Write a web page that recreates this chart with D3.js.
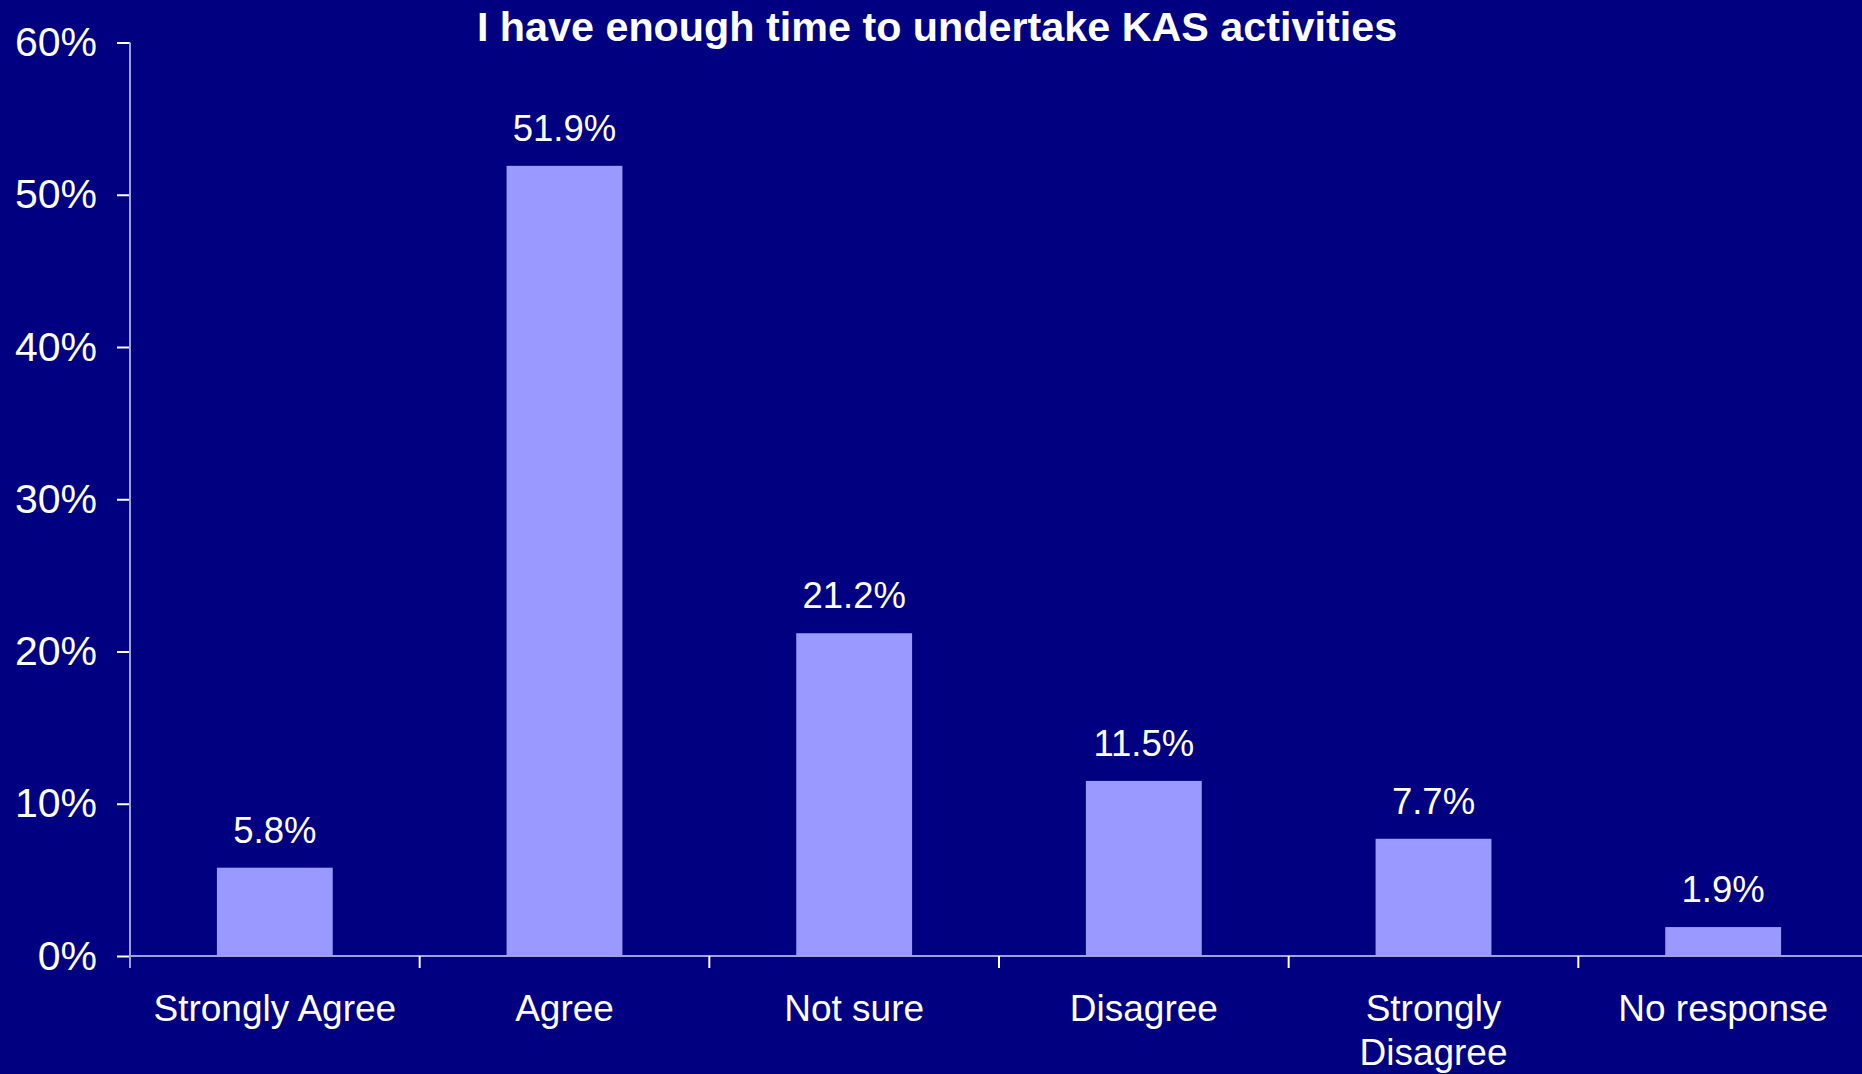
<!DOCTYPE html>
<html>
<head>
<meta charset="utf-8">
<script src="https://cdn.jsdelivr.net/npm/d3@7"></script>
<style>
  html, body { margin: 0; padding: 0; background: #000080; overflow: hidden; }
  svg { display: block; font-family: "Liberation Sans", Arial, sans-serif; }
</style>
</head>
<body>
<svg id="chart" width="1862" height="1074"></svg>
<script>
const title = 'I have enough time to undertake KAS activities';
const categories = ['Strongly Agree', 'Agree', 'Not sure', 'Disagree', 'Strongly Disagree', 'No response'];
const values = [5.8, 51.9, 21.2, 11.5, 7.7, 1.9];
const yTicks = [0, 10, 20, 30, 40, 50, 60];

const svg = d3.select('#chart');
const W = 1862, H = 1074;
const plotL = 130, plotR = 1868, plotT = 42.5, plotB = 956;

svg.append('rect').attr('width', W).attr('height', H).attr('fill', '#000080');

const x = d3.scaleBand().domain(categories).range([plotL, plotR]).paddingInner(0).paddingOuter(0);
const y = d3.scaleLinear().domain([0, 60]).range([plotB, plotT]);

const axisColor = '#a0a0e0';

// y axis
const yAxis = svg.append('g').attr('transform', `translate(${plotL},0)`)
  .call(d3.axisLeft(y).tickValues(yTicks).tickSize(13).tickPadding(20).tickFormat(d => d + '%'));
yAxis.select('.domain').remove();
yAxis.selectAll('.tick line').attr('stroke', '#ffffff').attr('stroke-width', 2);
yAxis.selectAll('.tick text')
  .attr('fill', '#ffffff').attr('font-size', 41).attr('font-family', '"Liberation Sans", Arial, sans-serif');
svg.append('line').attr('x1', plotL).attr('x2', plotL).attr('y1', plotT).attr('y2', plotB)
  .attr('stroke', axisColor).attr('stroke-width', 2);

// bars
const bw = x.bandwidth() * 0.4;
svg.append('g').selectAll('rect').data(values).join('rect')
  .attr('x', (d, i) => x(categories[i]) + (x.bandwidth() - bw) / 2)
  .attr('y', d => y(d))
  .attr('width', bw)
  .attr('height', d => y(0) - y(d))
  .attr('fill', '#9999ff');

// x axis line + boundary ticks
svg.append('line').attr('x1', plotL).attr('x2', W).attr('y1', plotB).attr('y2', plotB)
  .attr('stroke', axisColor).attr('stroke-width', 2);
svg.append('g').selectAll('line').data(categories).join('line')
  .attr('x1', d => x(d)).attr('x2', d => x(d))
  .attr('y1', plotB).attr('y2', plotB + 12)
  .attr('stroke', (d, i) => i === 0 ? axisColor : '#ffffff').attr('stroke-width', 2);

// value labels
svg.append('g').selectAll('text').data(values).join('text')
  .attr('x', (d, i) => x(categories[i]) + x.bandwidth() / 2)
  .attr('y', d => y(d) - 25)
  .attr('text-anchor', 'middle')
  .attr('fill', '#ffffff')
  .attr('font-size', 36.5)
  .text(d => d.toFixed(1) + '%');

// category labels with wrapping
const catG = svg.append('g');
categories.forEach(c => {
  const cx = x(c) + x.bandwidth() / 2;
  const t = catG.append('text')
    .attr('x', cx)
    .attr('y', 1021)
    .attr('text-anchor', 'middle')
    .attr('fill', '#ffffff')
    .attr('font-size', 37);
  const words = c.split(' ');
  let line = [];
  let tspan = t.append('tspan').attr('x', cx).attr('dy', 0);
  words.forEach(w => {
    line.push(w);
    tspan.text(line.join(' '));
    if (tspan.node().getComputedTextLength() > 280 && line.length > 1) {
      line.pop();
      tspan.text(line.join(' '));
      line = [w];
      tspan = t.append('tspan').attr('x', cx).attr('dy', 44).text(w);
    }
  });
});

// title
svg.append('text')
  .attr('x', 937).attr('y', 41)
  .attr('text-anchor', 'middle')
  .attr('fill', '#ffffff')
  .attr('font-size', 41.3)
  .attr('font-weight', 'bold')
  .text(title);
</script>
</body>
</html>
